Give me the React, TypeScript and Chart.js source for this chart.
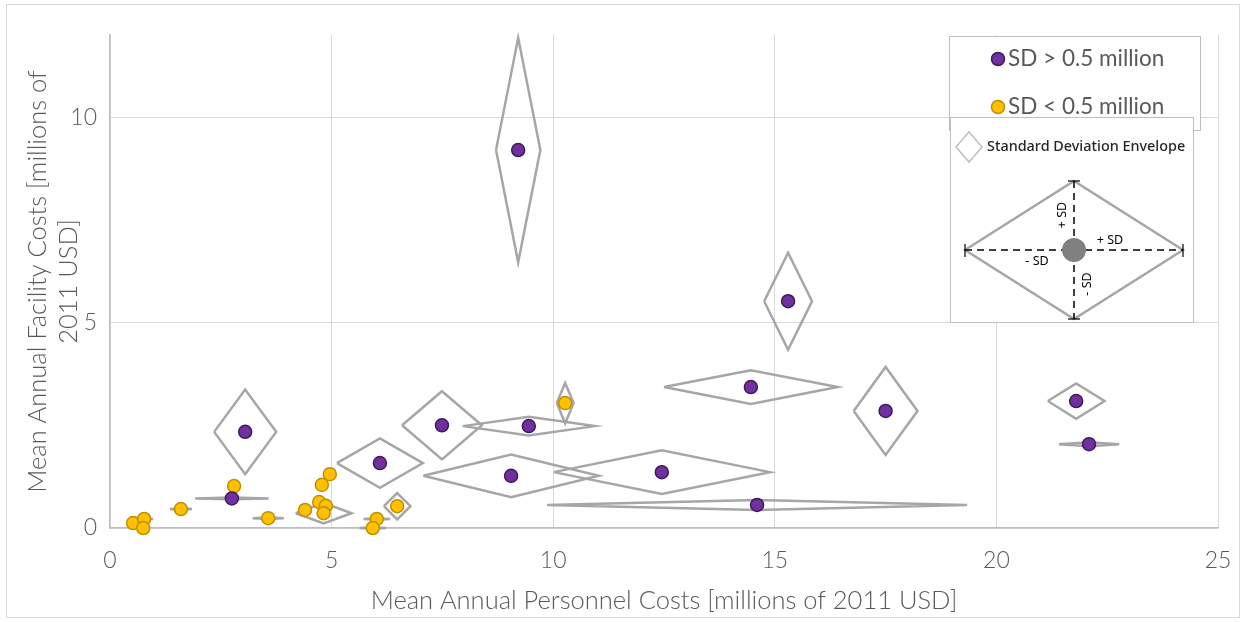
import React, { useEffect, useRef } from 'react';
import { Chart, registerables } from 'chart.js';

Chart.register(...registerables);

// SD > 0.5 million (purple)
const hiX = [9.21, 3.05, 2.75, 6.09, 7.49, 9.45, 9.05, 12.45, 14.6, 14.46, 15.3, 17.5, 21.8, 22.09];
const hiY = [9.2, 2.34, 0.72, 1.58, 2.5, 2.48, 1.27, 1.36, 0.56, 3.43, 5.52, 2.85, 3.09, 2.04];
const hiSdX = [0.5, 0.7, 0.83, 0.97, 0.9, 1.49, 1.98, 2.44, 4.74, 1.96, 0.54, 0.72, 0.64, 0.68];
const hiSdY = [2.73, 1.03, 0.02, 0.6, 0.83, 0.23, 0.52, 0.53, 0.12, 0.41, 1.18, 1.07, 0.43, 0.05];

// SD < 0.5 million (gold)
const loX = [0.52, 0.77, 0.75, 1.6, 2.8, 3.57, 4.4, 4.96, 4.78, 4.72, 4.87, 4.82, 6.02, 5.93, 6.48, 10.27];
const loY = [0.12, 0.22, 0.0, 0.46, 1.02, 0.24, 0.44, 1.31, 1.05, 0.63, 0.54, 0.36, 0.22, 0.0, 0.53, 3.04];
const loSdX = [0, 0.2, 0, 0.25, 0, 0.35, 0, 0, 0, 0, 0, 0.63, 0.3, 0.3, 0.3, 0.19];
const loSdY = [0, 0.02, 0, 0.02, 0, 0.02, 0, 0, 0, 0, 0, 0.25, 0.02, 0.02, 0.32, 0.49];

const xTicks = [0, 5, 10, 15, 20, 25];
const yTicks = [0, 5, 10];

const xTitle = 'Mean Annual Personnel Costs [millions of 2011 USD]';
const yTitle = ['Mean Annual Facility Costs [millions of', '2011 USD]'];
const legendHi = 'SD > 0.5 million';
const legendLo = 'SD < 0.5 million';
const insetTitle = 'Standard Deviation Envelope';

const PURPLE = '#7030a0';
const PURPLE_EDGE = '#3f1a5e';
const GOLD = '#ffc000';
const GOLD_EDGE = '#c08f00';
const ENV = '#a6a6a6';
const TEXT = '#595959';
const FONT = 'Lato, "Open Sans", sans-serif';

function envelope(x: number, y: number, sx: number, sy: number) {
  return [
    { x: x - sx, y },
    { x, y: y + sy },
    { x: x + sx, y },
    { x, y: y - sy },
    { x: x - sx, y },
  ];
}

const overlayPlugin = {
  id: 'overlay',
  afterDraw(chart: any) {
    const ctx: CanvasRenderingContext2D = chart.ctx;
    ctx.save();
    // outer frame
    ctx.strokeStyle = '#d9d9d9';
    ctx.lineWidth = 1;
    ctx.strokeRect(6.5, 4.5, 1233, 613);

    // top legend box
    ctx.fillStyle = '#ffffff';
    ctx.fillRect(949, 36, 251, 94);
    ctx.strokeStyle = '#bfbfbf';
    ctx.strokeRect(949.5, 36.5, 251, 94);

    const dot = (cx: number, cy: number, fill: string, edge: string) => {
      ctx.beginPath();
      ctx.arc(cx, cy, 6.5, 0, Math.PI * 2);
      ctx.fillStyle = fill;
      ctx.fill();
      ctx.lineWidth = 1.5;
      ctx.strokeStyle = edge;
      ctx.stroke();
    };
    dot(998, 59, PURPLE, PURPLE_EDGE);
    dot(998, 107, GOLD, GOLD_EDGE);
    ctx.fillStyle = TEXT;
    ctx.font = '22.5px Lato, sans-serif';
    ctx.textAlign = 'left';
    ctx.textBaseline = 'middle';
    ctx.fillText(legendHi, 1008, 59);
    ctx.fillText(legendLo, 1008, 107);

    // inset box
    ctx.fillStyle = '#ffffff';
    ctx.fillRect(950, 117, 243, 205);
    ctx.strokeStyle = '#bfbfbf';
    ctx.lineWidth = 1;
    ctx.strokeRect(950.5, 117.5, 243, 205);

    const diamond = (cx: number, cy: number, hw: number, hh: number) => {
      ctx.beginPath();
      ctx.moveTo(cx - hw, cy);
      ctx.lineTo(cx, cy - hh);
      ctx.lineTo(cx + hw, cy);
      ctx.lineTo(cx, cy + hh);
      ctx.closePath();
      ctx.stroke();
    };
    ctx.strokeStyle = '#bfbfbf';
    ctx.lineWidth = 1.5;
    diamond(969, 147, 13, 15);
    ctx.fillStyle = '#262626';
    ctx.font = '500 14.4px "Noto Sans", sans-serif';
    ctx.fillText(insetTitle, 987, 147);

    ctx.strokeStyle = ENV;
    ctx.lineWidth = 2.5;
    diamond(1074, 250, 109, 69);

    const line = (x1: number, y1: number, x2: number, y2: number) => {
      ctx.beginPath();
      ctx.moveTo(x1, y1);
      ctx.lineTo(x2, y2);
      ctx.stroke();
    };
    ctx.strokeStyle = '#000000';
    ctx.lineWidth = 1.5;
    ctx.setLineDash([7, 5]);
    line(965, 250, 1183, 250);
    line(1074, 181, 1074, 319);
    ctx.setLineDash([]);
    ctx.lineWidth = 1.2;
    line(965, 244, 965, 257);
    line(1183, 244, 1183, 257);
    line(1068, 181, 1080, 181);
    line(1068, 319, 1080, 319);

    ctx.beginPath();
    ctx.arc(1074, 250, 12, 0, Math.PI * 2);
    ctx.fillStyle = '#808080';
    ctx.fill();

    ctx.fillStyle = '#000000';
    ctx.font = '12.5px "Noto Sans", sans-serif';
    ctx.textAlign = 'center';
    ctx.fillText('+ SD', 1110, 240);
    ctx.fillText('- SD', 1037, 261);
    ctx.save();
    ctx.translate(1062, 215);
    ctx.rotate(-Math.PI / 2);
    ctx.fillText('+ SD', 0, 0);
    ctx.restore();
    ctx.save();
    ctx.translate(1087, 284);
    ctx.rotate(-Math.PI / 2);
    ctx.fillText('- SD', 0, 0);
    ctx.restore();

    ctx.restore();
  },
};

export default function App() {
  const ref = useRef<HTMLCanvasElement | null>(null);

  useEffect(() => {
    if (!ref.current) return;
    const envs: any[] = [];
    hiX.forEach((x, i) => {
      if (hiSdX[i] > 0 || hiSdY[i] > 0) envs.push(envelope(x, hiY[i], hiSdX[i], hiSdY[i]));
    });
    loX.forEach((x, i) => {
      if (loSdX[i] > 0 || loSdY[i] > 0) envs.push(envelope(x, loY[i], loSdX[i], loSdY[i]));
    });

    const datasets: any[] = [
      {
        label: legendHi,
        data: hiX.map((x, i) => ({ x, y: hiY[i] })),
        backgroundColor: PURPLE,
        borderColor: PURPLE_EDGE,
        pointRadius: 6.5,
        pointBorderWidth: 1.5,
        clip: false,
        order: 0,
      },
      {
        label: legendLo,
        data: loX.map((x, i) => ({ x, y: loY[i] })),
        backgroundColor: GOLD,
        borderColor: GOLD_EDGE,
        pointRadius: 6.5,
        pointBorderWidth: 1.5,
        clip: false,
        order: 1,
      },
      ...envs.map((d) => ({
        label: 'env',
        data: d,
        showLine: true,
        borderColor: ENV,
        borderWidth: 2.5,
        pointRadius: 0,
        fill: false,
        tension: 0,
        clip: false,
        order: 2,
      })),
    ];

    const chart = new Chart(ref.current, {
      type: 'scatter',
      data: { datasets },
      options: {
        responsive: false,
        animation: false,
        events: [],
        layout: { padding: { left: 0, top: 35, right: 26, bottom: 0 } },
        plugins: { legend: { display: false }, tooltip: { enabled: false } },
        scales: {
          x: {
            type: 'linear',
            min: 0,
            max: 25,
            afterFit: (s: any) => {
              s.height = 94;
              s.paddingLeft = 0;
              s.paddingRight = 0;
            },
            afterBuildTicks: (s: any) => { s.ticks = xTicks.map((v) => ({ value: v })); },
            ticks: { color: TEXT, font: { family: FONT, size: 23, weight: 300 }, padding: 19 },
            grid: { color: '#d9d9d9', drawTicks: false, lineWidth: 1 },
            border: { color: '#bfbfbf', width: 1.5 },
            title: {
              display: true,
              text: xTitle,
              color: TEXT,
              font: { family: FONT, size: 25.5, weight: 300 },
              padding: { top: 0, bottom: 6 },
            },
          },
          y: {
            type: 'linear',
            min: 0,
            max: 12,
            afterFit: (s: any) => {
              s.width = 110;
              s.paddingTop = 0;
              s.paddingBottom = 0;
            },
            afterBuildTicks: (s: any) => { s.ticks = yTicks.map((v) => ({ value: v })); },
            ticks: { color: TEXT, font: { family: FONT, size: 23, weight: 300 }, padding: 13 },
            grid: { color: '#d9d9d9', drawTicks: false, lineWidth: 1 },
            border: { color: '#bfbfbf', width: 1.5 },
            title: {
              display: true,
              text: yTitle,
              color: TEXT,
              font: { family: FONT, size: 25.5, weight: 300, lineHeight: '31px' },
              padding: { top: 22, bottom: 0 },
            },
          },
        },
      },
      plugins: [overlayPlugin],
    } as any);
    return () => chart.destroy();
  }, []);

  return (
    <div style={{ position: 'fixed', left: 0, top: 0, width: 1244, height: 622, background: '#fff' }}>
      <canvas ref={ref} width={1244} height={622} style={{ display: 'block' }} />
    </div>
  );
}
